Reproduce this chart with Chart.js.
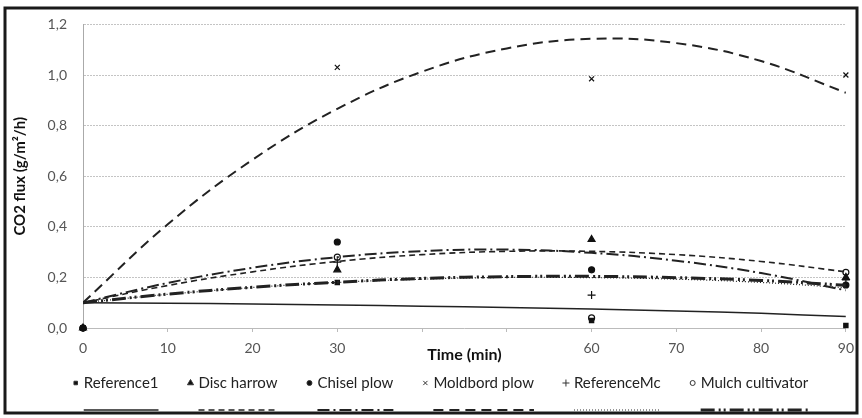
<!DOCTYPE html>
<html lang="en">
<head>
  <meta charset="UTF-8">
  <title>CO2 flux after tillage</title>
  <script src="https://cdn.jsdelivr.net/npm/chart.js"></script>
  <style>
    html, body { margin: 0; padding: 0; background: #fff; }
    #wrap { position: relative; width: 862px; height: 418px; }
  </style>
</head>
<body>
  <div id="wrap"><canvas id="fluxChart"></canvas></div>
  <script>
    // measurement times (min)
    const times = [0, 30, 60, 90];
    const seriesNames = ['Reference1', 'Disc harrow', 'Chisel plow', 'Moldbord plow', 'ReferenceMc', 'Mulch cultivator'];

    // measured CO2 flux (g/m2/h)
    const reference1 = [0, 0.18, 0.03, 0.01];
    const discHarrow = [0, 0.23, 0.35, 0.20];
    const chiselPlow = [0, 0.34, 0.23, 0.17];
    const moldbordPlow = [0, 1.03, 0.985, 1.0];
    const referenceMc = [0, 0.26, 0.13, 0.19];
    const mulchCultivator = [0, 0.28, 0.04, 0.22];

    // trendlines, every 10 min
    const trendTimes = [0, 10, 20, 30, 40, 50, 60, 70, 80, 90];
    const trendReference1 = [0.10, 0.098, 0.095, 0.091, 0.086, 0.081, 0.075, 0.067, 0.058, 0.045];
    const trendDiscHarrow = [0.10, 0.168, 0.222, 0.263, 0.290, 0.303, 0.303, 0.290, 0.263, 0.222];
    const trendChiselPlow = [0.10, 0.178, 0.238, 0.280, 0.304, 0.310, 0.297, 0.266, 0.217, 0.149];
    const trendMoldbordPlow = [0.10, 0.41, 0.665, 0.866, 1.013, 1.105, 1.143, 1.126, 1.055, 0.93];
    const trendReferenceMc = [0.10, 0.133, 0.160, 0.180, 0.193, 0.200, 0.199, 0.193, 0.180, 0.159];
    const trendMulchCultivator = [0.10, 0.134, 0.161, 0.181, 0.196, 0.203, 0.204, 0.199, 0.188, 0.169];

    // x tick labels hidden behind the axis title
    const hiddenXTicks = [40, 50];

    const points = [reference1, discHarrow, chiselPlow, moldbordPlow, referenceMc, mulchCultivator];
    const trends = [trendReference1, trendDiscHarrow, trendChiselPlow, trendMoldbordPlow, trendReferenceMc, trendMulchCultivator];

    const markerStyles = [
      { pointStyle: 'rect', radius: 3, fill: '#111' },
      { pointStyle: 'triangle', radius: 4, fill: '#111' },
      { pointStyle: 'circle', radius: 3, fill: '#111' },
      { pointStyle: 'crossRot', radius: 3.5, fill: '#111' },
      { pointStyle: 'cross', radius: 4, fill: '#111' },
      { pointStyle: 'circle', radius: 3, fill: '#fff' }
    ];
    const lineStyles = [
      { dash: [], width: 1.5 },
      { dash: [6, 4], width: 1.6 },
      { dash: [12, 4, 2, 4], width: 2 },
      { dash: [10, 6], width: 2 },
      { dash: [1, 2], width: 1.2 },
      { dash: [14, 4, 2, 3, 2, 4], width: 3 }
    ];

    const FONT = 'Lato, "Open Sans", sans-serif';
    const toXY = (xs, ys) => xs.map((x, i) => ({ x: x, y: ys[i] }));

    const datasets = [];
    seriesNames.forEach((name, i) => {
      datasets.push({
        type: 'line',
        label: name + ' trend',
        data: toXY(trendTimes, trends[i]),
        borderColor: '#222',
        borderWidth: lineStyles[i].width,
        borderDash: lineStyles[i].dash,
        pointRadius: 0,
        tension: 0.4,
        fill: false
      });
    });
    seriesNames.forEach((name, i) => {
      datasets.push({
        type: 'scatter',
        label: name,
        data: toXY(times, points[i]),
        showLine: false,
        pointStyle: markerStyles[i].pointStyle,
        pointRadius: markerStyles[i].radius,
        backgroundColor: markerStyles[i].fill,
        borderColor: '#111',
        borderWidth: 1.2,
        clip: false
      });
    });

    // frame around the whole picture
    const framePlugin = {
      id: 'frame',
      afterDraw(chart) {
        const ctx = chart.ctx;
        ctx.save();
        ctx.strokeStyle = '#1a1a1a';
        ctx.lineWidth = 3;
        ctx.strokeRect(5, 8, 852, 405);
        ctx.restore();
      }
    };

    // Excel-like legend: marker + name, line sample under the name
    const legendPlugin = {
      id: 'excelLegend',
      afterDraw(chart) {
        const ctx = chart.ctx;
        ctx.save();
        ctx.font = '15px ' + FONT;
        ctx.textBaseline = 'middle';
        const gap = 30, mGap = 10;
        const widths = seriesNames.map(n => ctx.measureText(n).width);
        let total = 0;
        widths.forEach(w => { total += mGap + w; });
        total += gap * (seriesNames.length - 1);
        let x = 441 - total / 2;
        const textY = 383, lineY = 410;
        seriesNames.forEach((name, i) => {
          const ms = markerStyles[i];
          const mx = x + 2;
          ctx.save();
          ctx.fillStyle = ms.fill;
          ctx.strokeStyle = '#333';
          ctx.lineWidth = 1;
          Chart.helpers.drawPoint(ctx, { pointStyle: ms.pointStyle, radius: ms.radius - 0.5, borderWidth: 1 }, mx, textY);
          ctx.restore();
          const tx = x + mGap;
          ctx.fillStyle = '#222';
          ctx.fillText(name, tx, textY);
          ctx.save();
          ctx.strokeStyle = '#222';
          ctx.lineWidth = lineStyles[i].width;
          ctx.setLineDash(lineStyles[i].dash);
          ctx.beginPath();
          ctx.moveTo(tx, lineY);
          ctx.lineTo(tx + widths[i], lineY);
          ctx.stroke();
          ctx.restore();
          x = tx + widths[i] + gap;
        });
        ctx.restore();
      }
    };

    const ctx = document.getElementById('fluxChart').getContext('2d');
    const fluxChart = new Chart(ctx, {
      type: 'scatter',
      data: { datasets: datasets },
      options: {
        responsive: true,
        maintainAspectRatio: false,
        animation: false,
        layout: { padding: { left: 8, right: 14, top: 23, bottom: 50 } },
        plugins: {
          legend: { display: false },
          tooltip: { enabled: false }
        },
        scales: {
          x: {
            type: 'linear',
            min: 0,
            max: 90,
            afterFit: s => { s.height = 40; },
            ticks: {
              stepSize: 10,
              padding: 8,
              color: '#555',
              font: { family: FONT, size: 14 },
              callback: v => hiddenXTicks.includes(v) ? '' : v
            },
            grid: { drawOnChartArea: false, drawTicks: true, tickLength: 4, color: '#bbb' },
            border: { color: '#bbb' },
            title: {
              display: true,
              text: 'Time (min)',
              color: '#111',
              font: { family: FONT, size: 16, weight: 'bold' },
              padding: { top: 0, bottom: 4 }
            }
          },
          y: {
            min: 0,
            max: 1.2,
            afterFit: s => { s.width = 75; },
            ticks: {
              stepSize: 0.2,
              padding: 16,
              color: '#555',
              font: { family: FONT, size: 14 },
              callback: v => v.toFixed(1).replace('.', ',')
            },
            grid: { drawTicks: false, color: '#c4c4c4', lineWidth: 1 },
            border: { color: '#aaa', dash: [2, 1] },
            title: {
              display: true,
              text: 'CO2 flux (g/m²/h)',
              color: '#111',
              font: { family: FONT, size: 15, weight: 'bold' },
              padding: { top: 3, bottom: 0 }
            }
          }
        }
      },
      plugins: [framePlugin, legendPlugin]
    });
  </script>
</body>
</html>
